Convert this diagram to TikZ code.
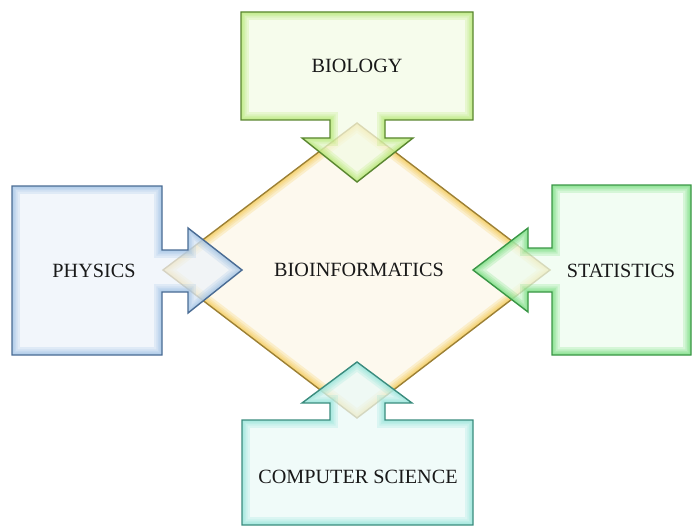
\documentclass[tikz,border=0pt]{standalone}
\usepackage{fontspec}
\setmainfont{Liberation Serif}

\definecolor{infofill}{HTML}{FDF9EE}
\definecolor{infoglow}{HTML}{F5C94E}
\definecolor{infoline}{HTML}{9C8035}
\definecolor{biofill}{HTML}{F3FBE4}
\definecolor{bioglow}{HTML}{B2E86C}
\definecolor{bioline}{HTML}{5A8630}
\definecolor{physfill}{HTML}{EDF3FA}
\definecolor{physglow}{HTML}{9DC0E4}
\definecolor{physline}{HTML}{4A6C94}
\definecolor{statfill}{HTML}{EDFCEE}
\definecolor{statglow}{HTML}{6EDC76}
\definecolor{statline}{HTML}{3A9646}
\definecolor{csfill}{HTML}{EAF9F7}
\definecolor{csglow}{HTML}{8FE3D8}
\definecolor{csline}{HTML}{3B8C7E}

% filled outline with a soft inner glow
\newcommand{\drawpanel}[5]{%
  \begin{scope}
    \clip #1;
    \fill[#2, fill opacity=#5] #1;
    \foreach \w in {9,6.5,4.5,3,1.8}
      \draw[#3, line width=\w pt, draw opacity=0.22] #1;
  \end{scope}
  \draw[#4, edge] #1;
}

\begin{document}
\begin{tikzpicture}[
x=0.02cm,
y=-0.02cm,
edge/.style={line width=0.8pt, line join=miter},
every node/.style={
font=\fontsize{11.5}{13}\selectfont,
text=black!90
}
]

\useasboundingbox (0,0) rectangle (693,527);

% centre
\drawpanel{(357,123) -- (550,270) -- (357,418) -- (163,270) -- cycle}
{infofill}{infoglow}{infoline}{1}

% biology
\drawpanel{(241,12) -- (473,12) -- (473,120) -- (385,120) -- (385,138)
-- (413,138) -- (357,182) -- (302,138) -- (330,138) -- (330,120)
-- (241,120) -- cycle}
{biofill}{bioglow}{bioline}{0.72}

% physics
\drawpanel{(12,186) -- (162,186) -- (162,250) -- (188,250) -- (188,228)
-- (242,270) -- (188,313) -- (188,292) -- (162,292) -- (162,355)
-- (12,355) -- cycle}
{physfill}{physglow}{physline}{0.72}

% statistics
\drawpanel{(691,185) -- (552,185) -- (552,248) -- (528,248) -- (528,228)
-- (473,270) -- (528,312) -- (528,292) -- (552,292) -- (552,355)
-- (691,355) -- cycle}
{statfill}{statglow}{statline}{0.72}

% computer science
\drawpanel{(242,525) -- (473,525) -- (473,420) -- (385,420) -- (385,403)
-- (412,403) -- (357,362) -- (302,403) -- (330,403) -- (330,420)
-- (242,420) -- cycle}
{csfill}{csglow}{csline}{0.72}

\node (info) at (359,270) {BIOINFORMATICS};

\node (bio) at (357,66) {BIOLOGY};

\node (phys) at (94,271) {PHYSICS};

\node (stat) at (621,271) {STATISTICS};

\node (cs) at (358,477) {COMPUTER SCIENCE};

\end{tikzpicture}
\end{document}
